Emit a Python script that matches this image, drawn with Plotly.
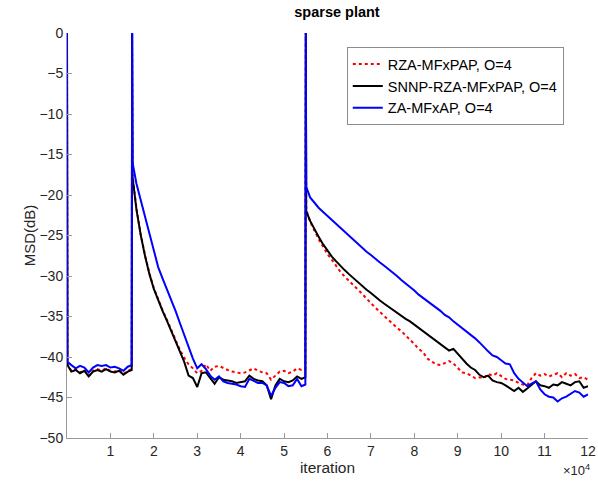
import plotly.graph_objects as go

# iteration index (shared by all three curves)
ITER = [0, 100, 1000, 2000, 3000, 4000, 5000, 6000, 7000, 8000, 9000, 10000,
        11000, 12000, 13000, 14000, 14900,
        15000, 15100, 16000, 17000, 18000, 19000, 20000, 21000, 22000, 23000,
        24000, 25000, 26000, 27000, 28000, 29000, 30000, 31000, 32000, 33000,
        34000, 35000, 36000, 37000, 38000, 39000, 40000, 41000, 42000, 43000,
        44000, 45000, 46000, 47000, 48000, 49000, 50000, 51000, 52000, 53000,
        54000, 54900,
        55000, 55100, 56000, 57000, 58000, 59000, 60000, 61000, 62000, 63000,
        64000, 65000, 66000, 67000, 68000, 69000, 70000, 71000, 72000, 73000,
        74000, 75000, 76000, 77000, 78000, 79000, 80000, 81000, 82000, 83000,
        84000, 85000, 86000, 87000, 88000, 89000, 90000, 91000, 92000, 93000,
        94000, 95000, 96000, 97000, 98000, 99000, 100000, 101000, 102000,
        103000, 104000, 105000, 106000, 107000, 108000, 109000, 110000, 111000,
        112000, 113000, 114000, 115000, 116000, 117000, 118000, 119000, 120000]

msd_rza = [0, -40.9, -41.7, -41.5, -41.9, -41.6, -42.3, -41.7, -41.5, -41.7,
           -41.4, -41.7, -41.8, -41.6, -42.1, -41.7, -41.5,
           0, -17.6, -21.7, -24.9, -27.5, -29.7, -31.5, -32.9, -34.2, -35.4,
           -36.7, -37.9, -39.1, -40.1, -40.9, -41.4, -42.0, -41.7, -40.9, -41.7,
           -41.2, -41.1, -41.4, -41.6, -41.8, -41.9, -42.0, -41.9, -41.6, -41.4,
           -41.7, -41.9, -42.0, -42.8, -42.3, -41.8, -41.7, -42.0, -41.8, -41.4,
           -41.6, -41.5,
           0, -21.8, -23.3, -24.5, -25.5, -26.4, -27.3, -28.0, -28.8, -29.5,
           -30.1, -30.6, -31.2, -31.6, -32.2, -32.8, -33.4, -33.9, -34.4, -34.9,
           -35.5, -35.9, -36.4, -36.8, -37.3, -37.9, -38.4, -39.0, -39.4, -40.2,
           -40.6, -40.9, -41.0, -40.7, -40.5, -40.8, -41.4, -41.9, -42.0, -42.3,
           -42.6, -42.5, -42.6, -42.1, -42.3, -42.0, -42.4, -42.7, -42.8, -42.9,
           -43.2, -43.4, -43.5, -42.6, -42.0, -42.3, -42.1, -42.4, -42.2, -42.0,
           -42.5, -42.0, -42.3, -42.1, -42.6, -42.5, -42.8]

msd_snnp = [0, -41.0, -41.8, -41.6, -42.0, -41.7, -42.4, -41.8, -41.6, -41.8,
            -41.5, -41.8, -41.9, -41.7, -42.2, -41.8, -41.6,
            0, -17.8, -21.8, -25.0, -27.6, -29.8, -31.6, -33.0, -34.3, -35.5,
            -36.8, -38.0, -39.3, -40.6, -42.3, -42.6, -43.7, -42.0, -41.9, -42.6,
            -43.3, -42.5, -42.8, -42.9, -43.0, -43.2, -43.1, -43.0, -42.3, -42.7,
            -42.9, -43.0, -43.5, -45.2, -43.5, -42.7, -43.0, -43.1, -42.9, -42.4,
            -42.7, -42.5,
            0, -22.0, -23.2, -24.3, -25.2, -26.1, -26.9, -27.6, -28.2, -28.8,
            -29.3, -29.8, -30.3, -30.8, -31.2, -31.7, -32.1, -32.6, -33.0, -33.4,
            -33.8, -34.2, -34.6, -34.9, -35.3, -35.6, -36.0, -36.4, -36.8, -37.2,
            -37.7, -38.1, -38.4, -38.9, -39.2, -39.0, -39.6, -40.3, -40.8, -41.3,
            -41.6, -42.2, -42.5, -42.3, -42.9, -43.1, -43.2, -43.5, -43.9, -44.2,
            -43.8, -44.3, -43.9, -43.4, -43.0, -43.5, -43.6, -43.8, -43.4, -43.5,
            -43.1, -43.3, -43.5, -43.1, -43.0, -43.8, -43.6]

msd_za = [0, -40.6, -41.0, -41.4, -41.1, -41.3, -41.9, -41.3, -41.0, -41.1,
          -41.0, -41.3, -41.2, -41.4, -41.7, -41.2, -41.0,
          0, -16.0, -18.6, -20.6, -22.7, -24.8, -26.8, -28.9, -30.3, -31.6,
          -32.9, -34.3, -35.8, -37.3, -38.9, -40.2, -41.4, -40.9, -41.5, -42.3,
          -42.8, -42.4, -43.0, -43.2, -43.3, -43.4, -43.6, -43.7, -42.7, -43.0,
          -43.2, -43.2, -43.5, -44.8, -43.8, -43.1, -43.2, -43.6, -43.5, -42.7,
          -43.6, -43.4,
          0, -19.0, -20.3, -21.0, -21.6, -22.1, -22.6, -23.1, -23.6, -24.1,
          -24.6, -25.0, -25.5, -26.0, -26.5, -27.0, -27.4, -27.9, -28.3, -28.7,
          -29.1, -29.6, -30.0, -30.5, -30.9, -31.4, -31.8, -32.3, -32.7, -33.1,
          -33.4, -33.9, -34.3, -34.8, -35.1, -35.6, -36.0, -36.4, -36.8, -37.2,
          -37.7, -38.2, -38.8, -39.3, -39.8, -40.0, -40.4, -40.8, -40.9, -42.0,
          -42.7, -43.2, -43.6, -43.3, -43.0, -44.0, -44.6, -44.9, -45.0, -45.5,
          -45.1, -44.9, -44.6, -44.2, -44.4, -44.9, -44.6]

x_ticks = [10000, 20000, 30000, 40000, 50000, 60000, 70000, 80000, 90000,
           100000, 110000, 120000]
x_labels = ['1', '2', '3', '4', '5', '6', '7', '8', '9', '10', '11', '12']
y_ticks = [0, -5, -10, -15, -20, -25, -30, -35, -40, -45, -50]

FONT = 'Liberation Sans, Arial, sans-serif'
AXC = '#9a9a9a'
TXT = '#262626'

fig = go.Figure()
fig.add_trace(go.Scatter(x=ITER, y=msd_rza, mode='lines', name='RZA-MFxPAP, O=4',
                         line=dict(color='#ff0000', width=2, dash='dot')))
fig.add_trace(go.Scatter(x=ITER, y=msd_snnp, mode='lines', name='SNNP-RZA-MFxPAP, O=4',
                         line=dict(color='#000000', width=2)))
fig.add_trace(go.Scatter(x=ITER, y=msd_za, mode='lines', name='ZA-MFxAP, O=4',
                         line=dict(color='#0000ff', width=2)))

fig.update_layout(
    width=598, height=488,
    margin=dict(l=67, r=10, t=33, b=50),
    paper_bgcolor='white', plot_bgcolor='white',
    font=dict(family=FONT, size=14, color=TXT),
    title=dict(text='<b>sparse plant</b>', x=0.5635, xanchor='center',
               y=0.975, yanchor='middle', font=dict(size=14.5, color='black')),
    showlegend=True,
    legend=dict(x=0.537, y=0.965, xanchor='left', yanchor='top',
                bgcolor='white', bordercolor='#8c8c8c', borderwidth=1,
                font=dict(size=14.5, color='black'), tracegroupgap=0,
                itemwidth=30),
)
fig.update_xaxes(range=[0, 120000], tickvals=x_ticks, ticktext=x_labels,
                 ticks='inside', ticklen=5, tickcolor=AXC, showline=True,
                 linecolor=AXC, linewidth=1, showgrid=False, zeroline=False,
                 automargin=False,
                 title=dict(text='iteration', standoff=0,
                            font=dict(size=15.5, color=TXT)))
fig.update_yaxes(range=[-50, 0], tickvals=y_ticks, ticks='inside', ticklen=5,
                 tickcolor=AXC, showline=True, linecolor=AXC, linewidth=1,
                 showgrid=False, zeroline=False, automargin=False,
                 title=dict(text='MSD(dB)', standoff=0,
                            font=dict(size=15, color=TXT)))

# MATLAB-style exponent label under the x axis
fig.add_annotation(text='×10<sup>4</sup>', xref='paper', yref='paper',
                   x=1.0, y=-0.08, xanchor='right', yanchor='middle', xshift=4,
                   showarrow=False, font=dict(size=13, color=TXT))

# drop the browser's default body margin so the figure sits at the page origin
fig.write_html('out.html', config={'displayModeBar': False},
               post_script="document.body.style.margin='0';")
